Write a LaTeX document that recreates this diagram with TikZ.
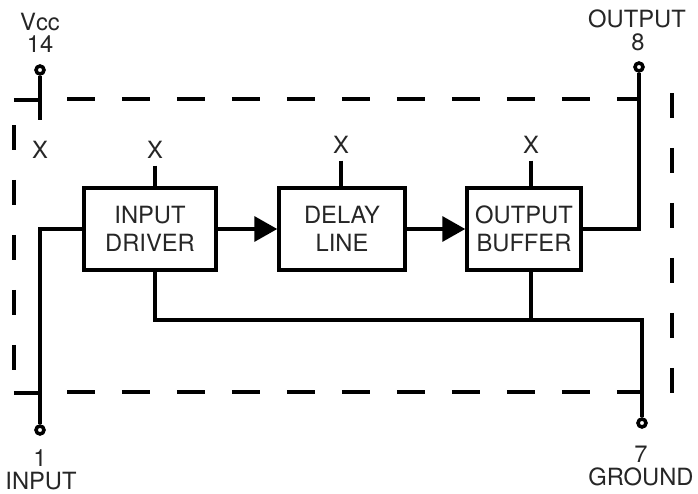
\documentclass[tikz,border=0pt]{standalone}
\usepackage{fontspec}
\setmainfont{TeX Gyre Heros}
\usetikzlibrary{arrows.meta}

\begin{document}
\begin{tikzpicture}[
    x=0.02cm, y=-0.02cm,
    line width=2pt,
    every node/.style={font=\fontsize{13.5}{16}\selectfont, text=black!85},
    block/.style={rectangle, draw, minimum height=1.64cm, align=center, inner sep=0pt},
    terminal/.style={circle, draw, fill=white, inner sep=0pt, minimum size=0.16cm},
    pintext/.style={anchor=base, inner sep=0pt},
    xmark/.style={anchor=base},
    link/.style={-{Triangle[length=0.46cm, width=0.5cm]}},
    frameh/.style={dash pattern=on 0.56cm off 0.54cm},
    framev/.style={dash pattern=on 0.5cm off 0.6cm}
]
\useasboundingbox (0,0) rectangle (698,494);

% Blocks
\node[block, minimum width=2.64cm] (driver) at (150,229) {INPUT\\DRIVER};
\node[block, minimum width=2.52cm] (delay) at (342,229) {DELAY\\LINE};
\node[block, minimum width=2.28cm] (buffer) at (524,229) {OUTPUT\\BUFFER};

% Terminals
\node[terminal] (vcc) at (40,70) {};
\node[terminal] (out) at (639,67) {};
\node[terminal] (in) at (40,430) {};
\node[terminal] (gnd) at (642,423) {};

% Terminal labels
\node[pintext] (vccname) at (40,30) {Vcc};
\node[pintext] (vccnum) at (40,52) {14};
\node[pintext] (outname) at (637,27) {OUTPUT};
\node[pintext] (outnum) at (638,50) {8};
\node[pintext] (innum) at (40,466) {1};
\node[pintext] (inname) at (41,489) {INPUT};
\node[pintext] (gndnum) at (641,462) {7};
\node[pintext] (gndname) at (641,485) {GROUND};

% X marks
\node[xmark] (xvcc) at (40,158) {X};
\node[xmark] (xdrv) at (155,158) {X};
\node[xmark] (xdel) at (341,153) {X};
\node[xmark] (xbuf) at (531,153) {X};

% Wire ends
\coordinate (vccend) at (40,120);
\coordinate (topleft) at (14,100);
\coordinate (botleft) at (14,393);
\coordinate (gbus) at (642,320);

% Wires
\draw (vcc) -- (vccend);
\draw (topleft) -- (topleft -| vcc);
\draw (botleft) -- (botleft -| in);
\draw (driver.west) -| (in);
\draw (buffer.east) -| (out);
\draw (xdrv.south) -- (xdrv |- driver.north);
\draw (xdel.south) -- (xdel |- delay.north);
\draw (xbuf.south) -- (xbuf |- buffer.north);
\draw (xdrv |- driver.south) |- (gbus) -- (gnd);
\draw (xbuf |- buffer.south) -- (xbuf |- gbus);

% Arrows
\draw[link] (driver) -- (delay);
\draw[link] (delay) -- (buffer);

% Package outline
\draw[frameh] (67,99) -- (639,99);
\draw[frameh] (67,392) -- (642,392);
\draw[framev] (14,125) -- (14,375);
\draw[framev] (672,93) -- (672,393);

\end{tikzpicture}
\end{document}
